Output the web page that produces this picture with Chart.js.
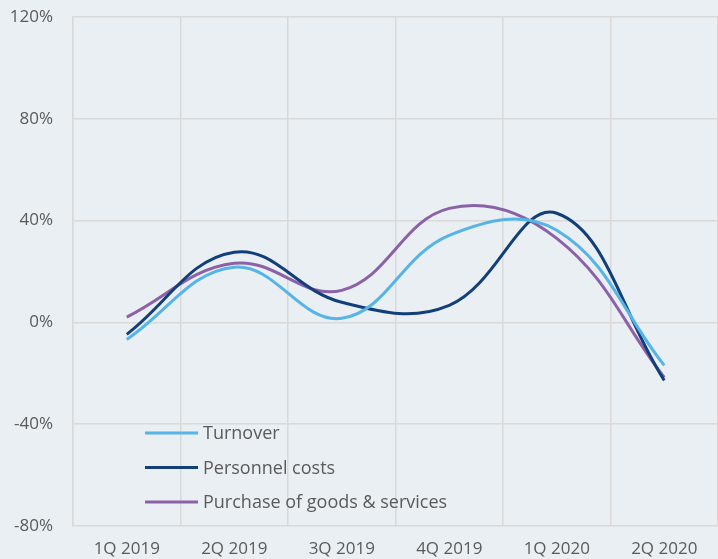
<!DOCTYPE html>
<html>
<head>
<meta charset="utf-8">
<script src="https://cdn.jsdelivr.net/npm/chart.js@4/dist/chart.umd.min.js"></script>
<style>
  html, body { margin: 0; padding: 0; background: #e9eff3; }
  #wrap { width: 718px; height: 559px; }
</style>
</head>
<body>
<div id="wrap"><canvas id="lineChart" width="718" height="559"></canvas></div>
<script>
// quarters on the x axis
var quarters = ['1Q 2019', '2Q 2019', '3Q 2019', '4Q 2019', '1Q 2020', '2Q 2020'];

// growth rates in %
var turnover = [-6.7, 21.7, 1.6, 34.2, 36.2, -16.9];
var personnelCosts = [-4.7, 27.6, 7.9, 6.7, 42.9, -22.8];
var purchaseGoods = [2.1, 23.2, 12.6, 44.8, 33.0, -21.6];

var seriesNames = ['Turnover', 'Personnel costs', 'Purchase of goods & services'];
var seriesColors = ['#56b4e6', '#123f7a', '#8b62a8'];

var yMin = -80, yMax = 120, yStep = 40;

var textColor = '#5a5a5a';
var gridColor = '#d9d9d9';
var fontFamily = "'Open Sans', 'Noto Sans', sans-serif";

// legend drawn inside the plot area
var insideLegend = {
    id: 'insideLegend',
    afterDatasetsDraw: function(chart){
        var ctx = chart.ctx;
        var x0 = 145, y0 = 433, gap = 34.5;
        ctx.save();
        ctx.font = '18px ' + fontFamily;
        ctx.textBaseline = 'middle';
        chart.data.datasets.forEach(function(ds, i){
            var y = y0 + i * gap;
            ctx.strokeStyle = ds.borderColor;
            ctx.lineWidth = 3;
            ctx.beginPath();
            ctx.moveTo(x0, y);
            ctx.lineTo(x0 + 53, y);
            ctx.stroke();
            ctx.fillStyle = textColor;
            ctx.fillText(ds.label, x0 + 58, y + 1);
        });
        ctx.restore();
    }
};

new Chart(document.querySelector('#lineChart'), {
    type: 'line',
    data: {
        labels: quarters,
        datasets: [
            { label: seriesNames[0], data: turnover, borderColor: seriesColors[0] },
            { label: seriesNames[1], data: personnelCosts, borderColor: seriesColors[1] },
            { label: seriesNames[2], data: purchaseGoods, borderColor: seriesColors[2] }
        ].map(function(d){
            d.borderWidth = 3;
            d.pointRadius = 0;
            d.tension = 0.4;
            d.fill = false;
            return d;
        })
    },
    options: {
        responsive: false,
        animation: false,
        layout: { padding: { top: 17, right: -3, left: 0, bottom: 0 } },
        plugins: {
            legend: { display: false },
            tooltip: { enabled: false }
        },
        scales: {
            x: {
                offset: true,
                grid: { color: gridColor, lineWidth: 1.5, offset: true, drawTicks: false },
                border: { display: false },
                ticks: { color: textColor, font: { family: fontFamily, size: 17 }, padding: 13, maxRotation: 0 },
                afterFit: function(scale){
                    scale.height = 33;
                    scale.paddingLeft = 0;
                    scale.paddingRight = 0;
                }
            },
            y: {
                min: yMin,
                max: yMax,
                grid: { color: gridColor, lineWidth: 1.5, drawTicks: false },
                border: { color: gridColor, width: 1.5 },
                ticks: {
                    stepSize: yStep,
                    color: textColor,
                    font: { family: fontFamily, size: 17 },
                    padding: 20,
                    callback: function(v){ return v + '%'; }
                },
                afterFit: function(scale){
                    scale.width = 73;
                    scale.paddingTop = 0;
                    scale.paddingBottom = 0;
                }
            }
        }
    },
    plugins: [insideLegend]
});
</script>
</body>
</html>
